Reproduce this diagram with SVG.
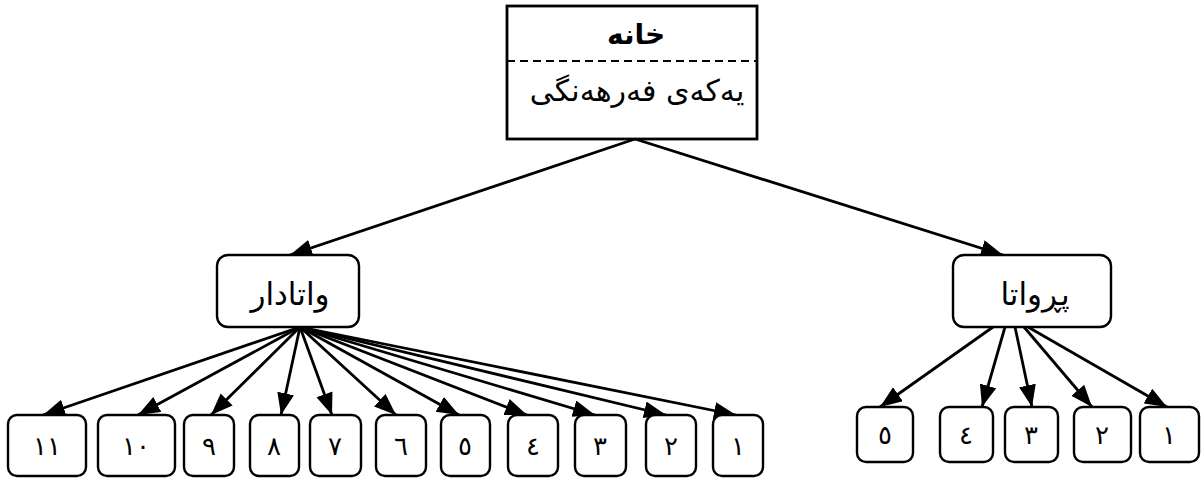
<svg xmlns="http://www.w3.org/2000/svg" width="1201" height="479" viewBox="0 0 1201 479">
<defs>
<marker id="arr" markerUnits="userSpaceOnUse" markerWidth="23" markerHeight="18" refX="22" refY="8.5" orient="auto" viewBox="0 0 23 18">
<path d="M0,0 L22,8.5 L0,17 z" fill="#000"/>
</marker>
<style>
.box{fill:#fff;stroke:#000;stroke-width:2.4}
.lbl{font-family:"DejaVu Sans",sans-serif;fill:#000;text-anchor:middle}
.mid{font-size:31px}
.num{font-size:26px}
.edge{stroke:#000;stroke-width:2.8;fill:none;marker-end:url(#arr)}
</style>
</defs>
<rect width="1201" height="479" fill="#fff"/>
<g id="connectors">
<line class="edge" x1="635" y1="139" x2="290" y2="255"/>
<line class="edge" x1="635" y1="139" x2="1003" y2="255"/>
<line class="edge" x1="300" y1="327" x2="43" y2="415"/>
<line class="edge" x1="300" y1="327" x2="138" y2="415"/>
<line class="edge" x1="300" y1="327" x2="211" y2="415"/>
<line class="edge" x1="300" y1="327" x2="281" y2="415"/>
<line class="edge" x1="300" y1="327" x2="332" y2="415"/>
<line class="edge" x1="300" y1="327" x2="396" y2="415"/>
<line class="edge" x1="300" y1="327" x2="459" y2="415"/>
<line class="edge" x1="300" y1="327" x2="527" y2="415"/>
<line class="edge" x1="300" y1="327" x2="595" y2="415"/>
<line class="edge" x1="300" y1="327" x2="666" y2="415"/>
<line class="edge" x1="300" y1="327" x2="736" y2="415"/>
<line class="edge" x1="993" y1="327" x2="880" y2="407"/>
<line class="edge" x1="1005" y1="327" x2="982" y2="407"/>
<line class="edge" x1="1015" y1="327" x2="1032" y2="407"/>
<line class="edge" x1="1024" y1="327" x2="1092" y2="407"/>
<line class="edge" x1="1028" y1="327" x2="1167" y2="407"/>
</g>
<g id="root">
<rect x="507" y="6" width="250" height="133" fill="#fff" stroke="#000" stroke-width="2.8"/>
<line x1="507" y1="61" x2="757" y2="61" stroke="#000" stroke-width="2" stroke-dasharray="8,5"/>
<text class="lbl" x="636" y="44" font-size="28" font-weight="bold">خانه</text>
<text class="lbl" x="637" y="101" font-size="30">یەکەی فەرهەنگی</text>
</g>
<g id="n-watadar">
<rect class="box" x="217" y="255" width="142" height="72" rx="11"/>
<text class="lbl mid" x="290" y="305">واتادار</text>
</g>
<g id="n-purwata">
<rect class="box" x="953" y="255" width="158" height="72" rx="11"/>
<text class="lbl mid" x="1035" y="305">پڕواتا</text>
</g>
<g id="l11"><rect class="box" x="8" y="415" width="78" height="61" rx="9"/><text class="lbl num" x="47" y="455">١١</text></g>
<g id="l10"><rect class="box" x="98" y="415" width="77" height="61" rx="9"/><text class="lbl num" x="136" y="455">١٠</text></g>
<g id="l9"><rect class="box" x="184" y="415" width="50" height="61" rx="9"/><text class="lbl num" x="209" y="455">٩</text></g>
<g id="l8"><rect class="box" x="250" y="415" width="49" height="61" rx="9"/><text class="lbl num" x="274" y="455">٨</text></g>
<g id="l7"><rect class="box" x="310" y="415" width="51" height="61" rx="9"/><text class="lbl num" x="335" y="455">٧</text></g>
<g id="l6"><rect class="box" x="376" y="415" width="50" height="61" rx="9"/><text class="lbl num" x="401" y="455">٦</text></g>
<g id="l5"><rect class="box" x="441" y="415" width="49" height="61" rx="9"/><text class="lbl num" x="465" y="455">٥</text></g>
<g id="l4"><rect class="box" x="508" y="415" width="50" height="61" rx="9"/><text class="lbl num" x="533" y="455">٤</text></g>
<g id="l3"><rect class="box" x="575" y="415" width="51" height="61" rx="9"/><text class="lbl num" x="600" y="455">٣</text></g>
<g id="l2"><rect class="box" x="646" y="415" width="50" height="61" rx="9"/><text class="lbl num" x="671" y="455">٢</text></g>
<g id="l1"><rect class="box" x="713" y="415" width="50" height="61" rx="9"/><text class="lbl num" x="738" y="455">١</text></g>
<g id="r5"><rect class="box" x="857" y="407" width="56" height="55" rx="9"/><text class="lbl num" x="885" y="444">٥</text></g>
<g id="r4"><rect class="box" x="940" y="407" width="53" height="55" rx="9"/><text class="lbl num" x="966" y="444">٤</text></g>
<g id="r3"><rect class="box" x="1005" y="407" width="53" height="55" rx="9"/><text class="lbl num" x="1031" y="444">٣</text></g>
<g id="r2"><rect class="box" x="1074" y="407" width="57" height="55" rx="9"/><text class="lbl num" x="1102" y="444">٢</text></g>
<g id="r1"><rect class="box" x="1140" y="407" width="59" height="55" rx="9"/><text class="lbl num" x="1169" y="444">١</text></g>
</svg>
